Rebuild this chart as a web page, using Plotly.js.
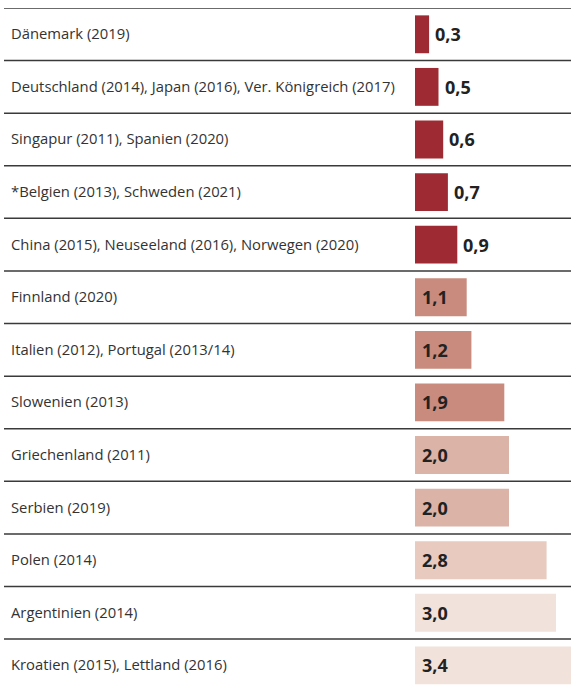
<!DOCTYPE html>
<html>
<head>
<meta charset="utf-8">
<script src="https://cdn.plot.ly/plotly-3.0.1.min.js"></script>
<style>html,body{margin:0;padding:0;background:#fff;}#chart{width:571px;height:688px;}</style>
</head>
<body>
<div id="chart"></div>
<script>
const categories = [
  "Dänemark (2019)",
  "Deutschland (2014), Japan (2016), Ver. Königreich (2017)",
  "Singapur (2011), Spanien (2020)",
  "*Belgien (2013), Schweden (2021)",
  "China (2015), Neuseeland (2016), Norwegen (2020)",
  "Finnland (2020)",
  "Italien (2012), Portugal (2013/14)",
  "Slowenien (2013)",
  "Griechenland (2011)",
  "Serbien (2019)",
  "Polen (2014)",
  "Argentinien (2014)",
  "Kroatien (2015), Lettland (2016)"
];
const values = [0.3, 0.5, 0.6, 0.7, 0.9, 1.1, 1.2, 1.9, 2.0, 2.0, 2.8, 3.0, 3.4];
const valueLabels = ["0,3","0,5","0,6","0,7","0,9","1,1","1,2","1,9","2,0","2,0","2,8","3,0","3,4"];

function barColor(v){
  if (v < 1) return "#9e2b33";
  if (v < 2) return "#c98b7e";
  if (v < 2.5) return "#dcb3a7";
  if (v < 2.9) return "#e8cabf";
  return "#f2e2dc";
}

const W = 571, L = 415;
const plotW = W - L;
const idx = categories.map((c,i)=>i);

const trace = {
  type: "bar",
  orientation: "h",
  x: values,
  y: idx,
  width: 0.72,
  marker: {color: values.map(barColor), line: {width: 0}},
  hoverinfo: "none"
};

const toPaperX = px => (px - L) / plotW;

const shapes = idx.map(i => ({
  type: "line", xref: "paper", yref: "y",
  x0: toPaperX(4), x1: 1, y0: i - 0.5, y1: i - 0.5,
  line: {color: "#3a3a3a", width: 1.5}
}));

const annotations = [];
idx.forEach(i => {
  annotations.push({
    xref: "paper", yref: "y", x: toPaperX(9), y: i,
    xanchor: "left", yanchor: "middle", showarrow: false,
    yshift: 1,
    text: categories[i],
    font: {family: "Open Sans", size: 14.8, color: "#333"}
  });
  const inside = values[i] >= 1;
  annotations.push({
    xref: "x", yref: "y", x: inside ? 0 : values[i], y: i,
    xanchor: "left", yanchor: "middle", showarrow: false,
    xshift: inside ? 5 : 4,
    text: "<b>" + valueLabels[i] + "</b>",
    font: {family: "Open Sans", size: 18, color: "#222"}
  });
});

const layout = {
  width: 571, height: 688,
  margin: {l: L, r: 0, t: 8, b: 0, pad: 0},
  paper_bgcolor: "#fff", plot_bgcolor: "#fff",
  showlegend: false,
  xaxis: {range: [0, plotW / 47], visible: false, fixedrange: true},
  yaxis: {range: [12.43, -0.5], visible: false, fixedrange: true},
  shapes: shapes,
  annotations: annotations,
  bargap: 0.28
};

Plotly.newPlot("chart", [trace], layout, {displayModeBar: false, staticPlot: true});
</script>
</body>
</html>
